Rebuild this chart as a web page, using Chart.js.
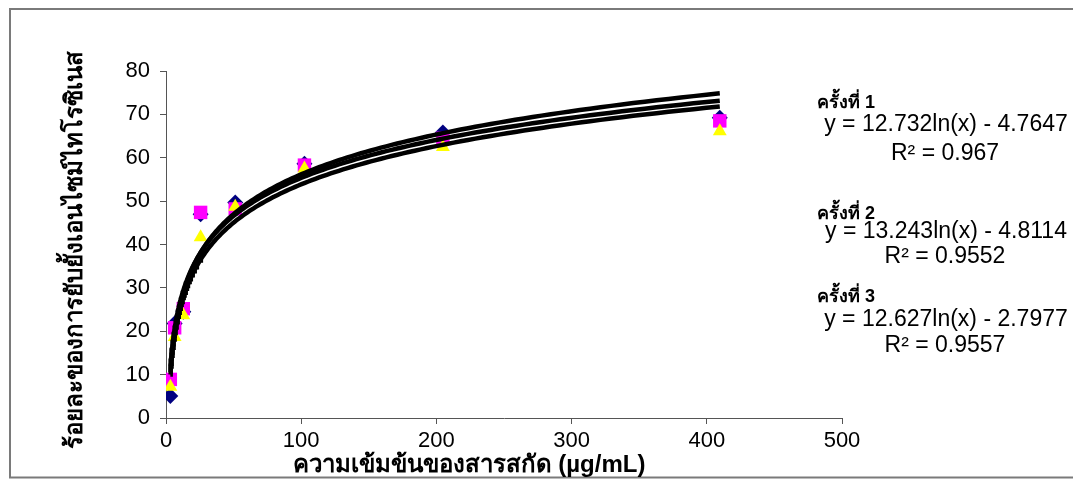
<!DOCTYPE html>
<html>
<head>
<meta charset="utf-8">
<script src="https://cdn.jsdelivr.net/npm/chart.js@4"></script>
<style>
html,body{margin:0;padding:0;background:#fff;}
#wrap{position:relative;width:1073px;height:479px;}
</style>
</head>
<body>
<div id="wrap"><canvas id="c"></canvas></div>
<script>
// concentrations (µg/mL)
const concentrations = [3.2, 6.4, 12.8, 25.6, 51.2, 102.4, 204.8, 409.6];
// % inhibition, run 1, 2, 3
const run1 = [5.1, 21.8, 24.5, 47.0, 49.7, 58.6, 65.8, 69.2];
const run2 = [8.9, 20.8, 25.2, 47.4, 48.2, 58.3, 64.5, 68.5];
const run3 = [7.2, 18.7, 23.7, 41.7, 48.7, 57.5, 62.5, 66.1];
// logarithmic trendline coefficients as printed on the chart
const slopes = [12.732, 13.243, 12.627];
const intercepts = [-4.7647, -4.8114, -2.7977];
const r2Labels = ["R² = 0.967", "R² = 0.9552", "R² = 0.9557"];
const runLabels = ["ครั้งที่ 1", "ครั้งที่ 2", "ครั้งที่ 3"];
const eqLabels = ["y = 12.732ln(x) - 4.7647", "y = 13.243ln(x) - 4.8114", "y = 12.627ln(x) - 2.7977"];
const xTicks = [0, 100, 200, 300, 400, 500];
const yTicks = [0, 10, 20, 30, 40, 50, 60, 70, 80];
const xTitle = "ความเข้มข้นของสารสกัด (µg/mL)";
const yTitle = "ร้อยละของการยับยั้งเอนไซม์ไทโรซิเนส";

function pts(vals){ return concentrations.map((x,i)=>({x:x,y:vals[i]})); }
function trend(k){
  const out=[]; const x0=concentrations[0], x1=concentrations[concentrations.length-1];
  const n=200;
  for(let i=0;i<=n;i++){
    const x = x0*Math.pow(x1/x0, i/n);
    out.push({x:x, y:slopes[k]*Math.log(x)+intercepts[k]});
  }
  return out;
}

const FONT = '"Liberation Sans", Arial, sans-serif';

const deco = {
  id:'deco',
  beforeDraw(chart){
    const ctx=chart.ctx;
    ctx.save();
    ctx.fillStyle='#fff';
    ctx.fillRect(0,0,chart.width,chart.height);
    ctx.strokeStyle='#7a7a7a';
    ctx.lineWidth=2;
    ctx.beginPath();
    ctx.moveTo(1080,9); ctx.lineTo(10,9); ctx.lineTo(10,477.5); ctx.lineTo(1080,477.5);
    ctx.stroke();
    ctx.restore();
  },
  afterDraw(chart){
    const ctx=chart.ctx;
    ctx.save();
    ctx.fillStyle='#000';
    // y title
    ctx.save();
    ctx.translate(75,250);
    ctx.rotate(-Math.PI/2);
    ctx.font='bold 24px '+FONT;
    ctx.textAlign='center'; ctx.textBaseline='middle';
    ctx.fillText(yTitle,0,0);
    ctx.restore();
    // x title
    ctx.font='bold 24px '+FONT;
    ctx.textAlign='center'; ctx.textBaseline='middle';
    ctx.fillText(xTitle,469,465);
    // equations
    const tops=[103,214,297];
    const eqY=[125,232,320];
    const r2Y=[154,257,346];
    for(let k=0;k<3;k++){
      ctx.font='bold 18px '+FONT;
      ctx.textAlign='left';
      ctx.fillText(runLabels[k],817,tops[k]);
      ctx.font='23px '+FONT;
      ctx.textAlign='center';
      ctx.fillText(eqLabels[k],946,eqY[k]);
      ctx.fillText(r2Labels[k],945,r2Y[k]);
    }
    ctx.restore();
  }
};

const trendStyle = {showLine:true, pointRadius:0, borderColor:'#000', borderWidth:4.5, fill:false, tension:0, order:0};

new Chart(document.getElementById('c'), {
  type:'scatter',
  data:{
    datasets:[
      Object.assign({label:'trend1', data:trend(0)}, trendStyle),
      Object.assign({label:'trend2', data:trend(1)}, trendStyle),
      Object.assign({label:'trend3', data:trend(2)}, trendStyle),
      {label:'ครั้งที่ 3', data:pts(run3), pointStyle:'triangle', pointRadius:8, backgroundColor:'#ffff00', borderColor:'#ffff00', borderWidth:0, order:1},
      {label:'ครั้งที่ 2', data:pts(run2), pointStyle:'rect', pointRadius:9.5, backgroundColor:'#ff00ff', borderColor:'#ff00ff', borderWidth:0, order:2},
      {label:'ครั้งที่ 1', data:pts(run1), pointStyle:'rectRot', pointRadius:8, backgroundColor:'#000080', borderColor:'#000080', borderWidth:0, order:3}
    ]
  },
  options:{
    responsive:true, maintainAspectRatio:false, animation:false,
    layout:{padding:{left:60, right:231, top:71, bottom:21}},
    plugins:{legend:{display:false}, tooltip:{enabled:false}},
    scales:{
      x:{type:'linear', min:0, max:500,
        afterBuildTicks(s){ s.ticks = xTicks.map(v=>({value:v})); },
        afterFit(s){ s.height=40; },
        grid:{drawOnChartArea:false, drawTicks:true, tickLength:6, color:'#555', lineWidth:1},
        border:{color:'#555', width:1},
        ticks:{font:{family:FONT, size:22}, color:'#000', padding:4, maxRotation:0}
      },
      y:{type:'linear', min:0, max:80,
        afterBuildTicks(s){ s.ticks = yTicks.map(v=>({value:v})); },
        afterFit(s){ s.width=106; },
        grid:{drawOnChartArea:false, drawTicks:true, tickLength:6, color:'#555', lineWidth:1},
        border:{color:'#555', width:1},
        ticks:{font:{family:FONT, size:22}, color:'#000', padding:10}
      }
    }
  },
  plugins:[deco]
});
</script>
</body>
</html>
